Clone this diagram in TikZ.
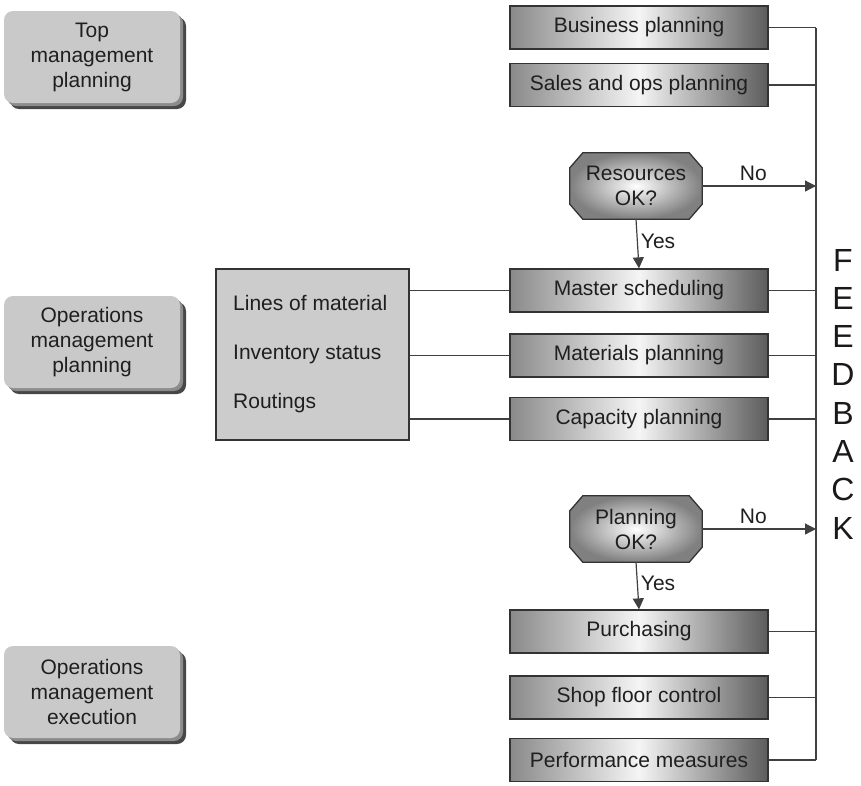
\documentclass[tikz,border=0pt]{standalone}
\usepackage{fontspec}
\setmainfont{Liberation Sans}
\usetikzlibrary{arrows.meta,backgrounds,shadows,calc}

\newcommand{\lblfont}{\fontsize{21}{25}\selectfont}
\newcommand{\bigletter}{\fontsize{32}{32}\selectfont}

\tikzset{
  proc/.style={draw=black!80, line width=1.3pt, minimum width=258pt, minimum height=43pt,
    inner sep=0pt, left color=black!46, right color=black!64, middle color=white!96!black,
    text=black!88, font=\lblfont},
  decide/.style={minimum width=132pt, minimum height=66pt, inner sep=0pt, align=center,
    text=black!88, font=\lblfont},
  octa/.style={draw=black!80, line width=1.3pt, inner color=white, outer color=black!50},
  level/.style={rounded corners=9pt, fill=black!21, minimum width=176pt, minimum height=92pt,
    inner sep=0pt, align=center, text=black!88, font=\lblfont,
    general shadow={fill=black!72, shadow xshift=6pt, shadow yshift=-6pt},
    general shadow={fill=black!45, shadow xshift=3pt, shadow yshift=-3pt}},
  databox/.style={draw=black!80, line width=1.2pt, fill=black!20, minimum width=193pt,
    minimum height=171pt, inner sep=0pt},
  datatxt/.style={anchor=west, inner sep=0pt, text=black!88, font=\lblfont},
  wire/.style={draw=black!75, line width=1.2pt},
  flow/.style={wire, -{Triangle[length=11pt,width=11pt]}},
  tag/.style={inner sep=0pt, text=black!88, font=\lblfont},
  side/.style={inner sep=0pt, text=black!90, font=\bigletter}
}

\begin{document}
\begin{tikzpicture}[x=1pt, y=-1pt]
\useasboundingbox (0,0) rectangle (861,785);

% management levels on the left
\node[level] (top)  at (92,57)  {Top\\management\\planning};
\node[level] (opsp) at (92,342) {Operations\\management\\planning};
\node[level] (opse) at (92,692) {Operations\\management\\execution};

% planning and control steps
\node[proc] (bp)  at (639,27.5)  {Business planning};
\node[proc] (sop) at (639,85)    {Sales and ops planning};
\node[decide] (res) at (636,186) {Resources\\OK?};
\node[proc] (ms)  at (639,290.5) {Master scheduling};
\node[proc] (mp)  at (639,355.5) {Materials planning};
\node[proc] (cp)  at (639,419)   {Capacity planning};
\node[decide] (pok) at (636,529) {Planning\\OK?};
\node[proc] (pur) at (639,631.5) {Purchasing};
\node[proc] (sfc) at (639,697.5) {Shop floor control};
\node[proc] (pm)  at (639,760)   {Performance measures};

% octagonal decision outlines behind their labels
\begin{scope}[on background layer]
  \foreach \d in {res,pok} {
    \path[octa] ($(\d.north west)+(13,0)$) -- ($(\d.north east)+(-13,0)$)
      -- ($(\d.north east)+(0,15)$) -- ($(\d.south east)+(0,-15)$)
      -- ($(\d.south east)+(-13,0)$) -- ($(\d.south west)+(13,0)$)
      -- ($(\d.south west)+(0,-15)$) -- ($(\d.north west)+(0,15)$) -- cycle;
  }
\end{scope}

% data files
\node[databox] (data) at (312.5,354.5) {};
\node[datatxt] (lom) at (233,303) {Lines of material};
\node[datatxt] (inv) at (233,354) {Inventory status};
\node[datatxt] (rt)  at (233,403) {Routings};

% feedback trunk
\coordinate (tx) at (816,0);
\coordinate (ttop) at (bp.east -| tx);
\coordinate (tbot) at (pm.east -| tx);
\draw[wire] (ttop) -- (tbot);
\foreach \n in {bp,sop,ms,mp,cp,pur,sfc,pm}
  \draw[wire] (\n.east) -- (\n.east -| tx);

% decisions
\draw[flow] (res.east) -- (res.east -| tx) node[tag, pos=0.45, above=5pt] (no1) {No};
\draw[flow] (res.south) -- (ms.north) node[tag, pos=0.45, right=3pt] (yes1) {Yes};
\draw[flow] (pok.east) -- (pok.east -| tx) node[tag, pos=0.45, above=5pt] (no2) {No};
\draw[flow] (pok.south) -- (pur.north) node[tag, pos=0.45, right=3pt] (yes2) {Yes};

% data links
\draw[wire] (ms.west) -- (ms.west -| data.east);
\draw[wire] (mp.west) -- (mp.west -| data.east);
\draw[wire] (cp.west) -- (cp.west -| data.east);

% vertical lettering
\foreach \c [count=\i from 0] in {F,E,E,D,B,A,C,K}
  \node[side] (ltr\i) at (843,260+38.3*\i) {\c};
\end{tikzpicture}
\end{document}
